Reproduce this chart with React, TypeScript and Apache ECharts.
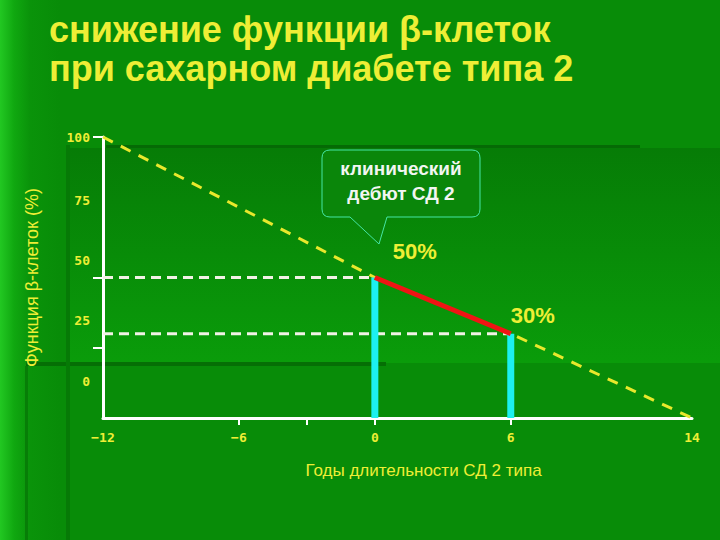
import React, { useEffect, useRef } from 'react';
import * as echarts from 'echarts';

// chart values
const years = [-12, -6, 0, 6, 14];
const yearTicks = [-6, -3, 0, 6];
const yTicks = [0, 25, 50, 75, 100];
const yTickMarks = [25, 50, 100];
const declineLine = [[-12, 100], [0, 50], [6, 30], [14, 0]];
const debutYears = [0, 6];
const debutValues = [50, 30];
const debutLabels = ['50%', '30%'];

const YELLOW = '#eeee36';

const calloutPath =
    'M 330 150 H 472 Q 480 150 480 158 V 209 Q 480 217 472 217 H 387 L 379 244 L 350 217 H 330 Q 322 217 322 209 V 158 Q 322 150 330 150 Z';

echarts.graphic.registerShape('callout', echarts.graphic.extendPath(calloutPath, {}));

const App: React.FC = () => {
    const chartRef = useRef<HTMLDivElement>(null);

    useEffect(() => {
        if (!chartRef.current) return;
        const chart = echarts.init(chartRef.current, null, { renderer: 'svg' });

        // the slide's y labels sit above their true tick positions
        const labelLift: Record<number, number> = { 0: 37, 25: 27, 50: 17, 75: 7, 100: 0 };
        const rich: Record<string, any> = {};
        yTicks.forEach((v) => {
            rich['t' + v] = {
                color: YELLOW,
                fontSize: 13,
                fontWeight: 'bold',
                fontFamily: 'DejaVu Sans Mono',
                padding: [0, 0, labelLift[v] * 2, 0],
            };
        });

        const labelOffsets = [[40, -26], [22, -18]];

        const option = {
            animation: false,
            title: {
                text: 'снижение функции β-клеток\nпри сахарном диабете типа 2',
                left: 44,
                top: 5,
                textStyle: {
                    color: YELLOW,
                    fontSize: 36,
                    lineHeight: 39,
                    fontWeight: 'bold',
                    fontFamily: 'Liberation Sans',
                },
            },
            grid: { left: 103, right: 28, top: 137, bottom: 122, containLabel: false },
            xAxis: {
                type: 'value',
                min: -12,
                max: 14,
                name: 'Годы длительности СД 2 типа',
                nameLocation: 'middle',
                nameGap: 44,
                nameTextStyle: {
                    color: YELLOW,
                    fontSize: 17,
                    fontFamily: "'Liberation Sans Narrow', 'Liberation Sans'",
                    padding: [0, 0, 0, 52],
                },
                axisLine: { onZero: false, lineStyle: { color: '#ffffff', width: 3 } },
                axisTick: { customValues: yearTicks, length: 7, lineStyle: { color: '#ffffff', width: 2 } },
                axisLabel: {
                    customValues: years,
                    margin: 13,
                    color: YELLOW,
                    fontSize: 13,
                    fontWeight: 'bold',
                    fontFamily: 'DejaVu Sans Mono',
                    formatter: (v: number) => (v < 0 ? '\u2212' + Math.abs(v) : String(v)),
                },
                splitLine: { show: false },
            },
            yAxis: {
                type: 'value',
                min: 0,
                max: 100,
                name: 'Функция β-клеток (%)',
                nameLocation: 'middle',
                nameGap: 62,
                nameTextStyle: { color: YELLOW, fontSize: 18, fontFamily: 'Liberation Sans' },
                axisLine: { show: true, onZero: false, lineStyle: { color: '#ffffff', width: 3 } },
                axisTick: { show: true, customValues: yTickMarks, length: 10, lineStyle: { color: '#ffffff', width: 2 } },
                axisLabel: {
                    customValues: yTicks,
                    margin: 13,
                    formatter: (v: number) => `{t${v}|${v}}`,
                    rich,
                },
                splitLine: { show: false },
            },
            graphic: [
                {
                    type: 'rect',
                    shape: { x: 70, y: 148, width: 650, height: 215 },
                    style: {
                        fill: new echarts.graphic.LinearGradient(0, 0, 0, 1, [
                            { offset: 0, color: '#067c06' },
                            { offset: 1, color: '#0a9c0a' },
                        ]),
                    },
                    z: -1,
                },
                { type: 'rect', shape: { x: 106, y: 145, width: 534, height: 3 }, style: { fill: '#056a05' }, z: -1 },
                { type: 'rect', shape: { x: 26, y: 362, width: 360, height: 4 }, style: { fill: '#056f05' }, z: -1 },
                { type: 'rect', shape: { x: 66, y: 145, width: 4, height: 395 }, style: { fill: '#067a06' }, z: -1 },
                { type: 'rect', shape: { x: 25, y: 366, width: 3, height: 174 }, style: { fill: '#077e07' }, z: -1 },
                {
                    type: 'callout',
                    x: 0,
                    y: 0,
                    z: 10,
                    style: { fill: '#0a860a', stroke: '#44e6a4', lineWidth: 1 },
                },
                {
                    type: 'text',
                    x: 401,
                    y: 168,
                    z: 11,
                    style: {
                        text: 'клинический',
                        fill: '#f2f6f2',
                        fontSize: 19,
                        fontWeight: 'bold',
                        fontFamily: 'Liberation Sans',
                        align: 'center',
                        verticalAlign: 'middle',
                    },
                },
                {
                    type: 'text',
                    x: 401,
                    y: 193,
                    z: 11,
                    style: {
                        text: 'дебют СД 2',
                        fill: '#f2f6f2',
                        fontSize: 19,
                        fontWeight: 'bold',
                        fontFamily: 'Liberation Sans',
                        align: 'center',
                        verticalAlign: 'middle',
                    },
                },
            ],
            series: [
                {
                    type: 'line',
                    data: declineLine,
                    symbol: 'none',
                    lineStyle: { color: '#e8e82c', width: 3, type: [11, 9] },
                    z: 2,
                },
                ...debutYears.map((yr, i) => ({
                    type: 'line',
                    data: [[years[0], debutValues[i]], [yr, debutValues[i]]],
                    symbol: 'none',
                    lineStyle: { color: '#f2f2e6', width: 3, type: [10, 6] },
                    z: 2,
                })),
                {
                    type: 'bar',
                    data: debutYears.map((yr, i) => [yr, debutValues[i]]),
                    barWidth: 7,
                    itemStyle: { color: '#1cf0f0' },
                    z: 3,
                },
                {
                    type: 'line',
                    data: debutYears.map((yr, i) => [yr, debutValues[i]]),
                    symbol: 'none',
                    lineStyle: { color: '#f01414', width: 5 },
                    z: 4,
                },
                {
                    type: 'scatter',
                    symbolSize: 0,
                    itemStyle: { opacity: 1 },
                    data: debutYears.map((yr, i) => ({
                        value: [yr, debutValues[i]],
                        label: {
                            show: true,
                            position: 'inside',
                            offset: labelOffsets[i],
                            formatter: debutLabels[i],
                            color: YELLOW,
                            opacity: 1,
                            textBorderWidth: 0,
                            fontSize: 22,
                            fontWeight: 'bold',
                            fontFamily: 'Liberation Sans',
                        },
                    })),
                    z: 5,
                },
            ],
        };

        chart.setOption(option);

        return () => {
            chart.dispose();
        };
    }, []);

    return (
        <div
            ref={chartRef}
            style={{
                position: 'fixed',
                left: 0,
                top: 0,
                width: '720px',
                height: '540px',
                background: 'linear-gradient(to right, #22c822 0px, #10a810 14px, #0a930a 30px, #088c08 60px, #088c08 100%)',
            }}
        />
    );
};

export default App;
